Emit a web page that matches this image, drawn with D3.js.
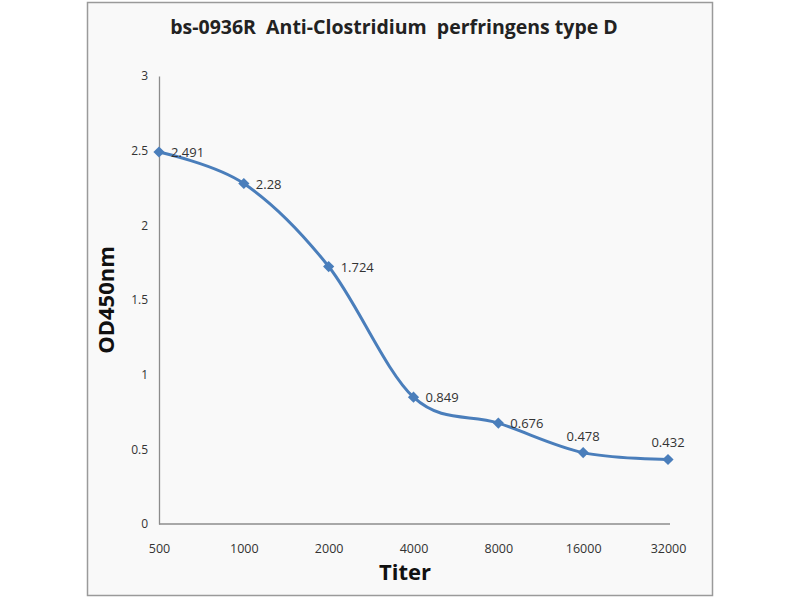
<!DOCTYPE html>
<html>
<head>
<meta charset="utf-8">
<script src="https://cdn.jsdelivr.net/npm/d3@7"></script>
<style>
  body { margin: 0; background: #ffffff; }
  text { font-family: "Open Sans", "DejaVu Sans", sans-serif; }
</style>
</head>
<body>
<div id="chart"></div>
<script>
// Chart data
const titers = ["500", "1000", "2000", "4000", "8000", "16000", "32000"];
const odValues = [2.491, 2.28, 1.724, 0.849, 0.676, 0.478, 0.432];
const yTicks = [0, 0.5, 1, 1.5, 2, 2.5, 3];

const W = 800, H = 600;
const plot = { left: 159, right: 668, top: 76, bottom: 524 };

const svg = d3.select("#chart")
    .append("svg")
    .attr("width", W)
    .attr("height", H);

// Chart frame
svg.append("rect")
    .attr("x", 87.5).attr("y", 2.5)
    .attr("width", 625).attr("height", 593)
    .attr("fill", "#f9f9f9")
    .attr("stroke", "#9a9a9a")
    .attr("stroke-width", 1.5);

// Scales
const x = d3.scalePoint()
    .domain(titers)
    .range([plot.left, plot.right]);

const y = d3.scaleLinear()
    .domain([0, 3])
    .range([plot.bottom, plot.top]);

// Y axis (no tick marks, just labels and line)
const yAxis = svg.append("g")
    .attr("transform", `translate(${plot.left},0)`)
    .call(d3.axisLeft(y).tickValues(yTicks).tickSize(0).tickPadding(11).tickFormat(d3.format("")));
yAxis.select(".domain").attr("stroke", "#8c8c8c").attr("stroke-width", 1.3);
yAxis.selectAll("text").attr("font-size", 12).attr("fill", "#333");

// X axis
const xAxis = svg.append("g")
    .attr("transform", `translate(0,${plot.bottom})`)
    .call(d3.axisBottom(x).tickSize(0).tickPadding(20));
xAxis.select(".domain").attr("stroke", "#8c8c8c").attr("stroke-width", 1.3)
    .attr("d", `M${plot.left},0H${plot.right + 2}`);
xAxis.selectAll("text").attr("font-size", 12.5).attr("fill", "#333");

// Smoothed line
const line = d3.line()
    .x((d, i) => x(titers[i]))
    .y(d => y(d))
    .curve(d3.curveCatmullRom.alpha(0));

svg.append("path")
    .datum(odValues)
    .attr("fill", "none")
    .attr("stroke", "#4a7ebb")
    .attr("stroke-width", 3)
    .attr("d", line);

// Diamond markers
svg.append("g")
    .selectAll("path")
    .data(odValues)
    .enter()
    .append("path")
    .attr("d", d3.symbol().type(d3.symbolDiamond2).size(80))
    .attr("transform", (d, i) => `translate(${x(titers[i])},${y(d)})`)
    .attr("fill", "#4a7ebb");

// Data labels (last two sit above the point)
svg.append("g")
    .selectAll("text")
    .data(odValues)
    .enter()
    .append("text")
    .attr("x", (d, i) => x(titers[i]) + (i >= 5 ? 0 : 12))
    .attr("y", (d, i) => y(d) + (i >= 5 ? -12 : 5))
    .attr("text-anchor", (d, i) => i >= 5 ? "middle" : "start")
    .attr("font-size", 13)
    .attr("fill", "#333")
    .text(d => d);

// Title
svg.append("text")
    .attr("x", 394).attr("y", 34)
    .attr("text-anchor", "middle")
    .attr("font-size", 19.5)
    .attr("font-weight", "bold")
    .attr("fill", "#222")
    .attr("xml:space", "preserve")
    .text("bs-0936R  Anti-Clostridium  perfringens type D");

// Axis titles
svg.append("text")
    .attr("x", 405).attr("y", 580)
    .attr("text-anchor", "middle")
    .attr("font-size", 22)
    .attr("font-weight", "bold")
    .attr("fill", "#111")
    .text("Titer");

svg.append("text")
    .attr("transform", "translate(114,300) rotate(-90)")
    .attr("text-anchor", "middle")
    .attr("font-size", 22)
    .attr("font-weight", "bold")
    .attr("fill", "#111")
    .text("OD450nm");
</script>
</body>
</html>
